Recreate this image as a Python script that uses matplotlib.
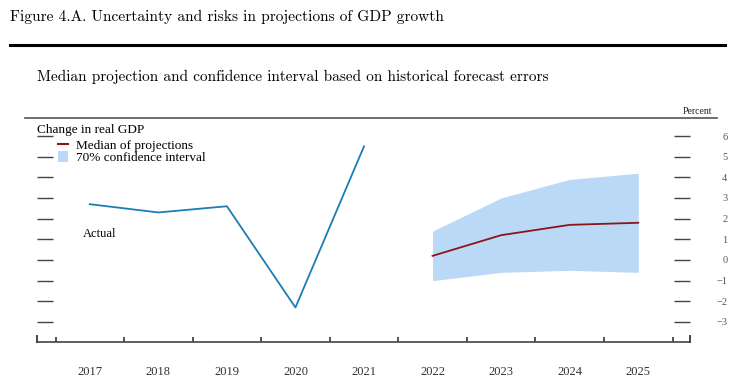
import matplotlib
matplotlib.use("Agg")
import matplotlib.pyplot as plt
from matplotlib.lines import Line2D
from matplotlib.patches import Patch

# --- Data ---
actual_years = [2017, 2018, 2019, 2020, 2021]
actual_growth = [2.7, 2.3, 2.6, -2.3, 5.5]

proj_years = [2022, 2023, 2024, 2025]
median_proj = [0.2, 1.2, 1.7, 1.8]
ci_upper = [1.4, 3.0, 3.9, 4.2]
ci_lower = [-1.0, -0.6, -0.5, -0.6]

all_years = actual_years + proj_years
y_ticks = [6, 5, 4, 3, 2, 1, 0, -1, -2, -3]

# --- Style ---
W, H = 743, 388
BLUE_LINE = "#1b7db5"
RED_LINE = "#8c1515"
BAND = "#b9d9f6"
SERIF = ["Liberation Serif", "DejaVu Serif"]
CM = ["cmr10", "DejaVu Serif"]
plt.rcParams["axes.unicode_minus"] = True

fig = plt.figure(figsize=(W / 100, H / 100), dpi=100)
fig.patch.set_facecolor("white")


def fx(px):
    return px / W


def fy(py):
    return 1 - py / H


# Header
fig.text(fx(10), fy(17), "Figure 4.A. Uncertainty and risks in projections of GDP growth",
         family=CM, fontsize=11.1, va="center", ha="left")
fig.add_artist(Line2D([fx(10), fx(725)], [fy(45), fy(45)], color="black", lw=2.2))
fig.text(fx(37), fy(77), "Median projection and confidence interval based on historical forecast errors",
         family=CM, fontsize=11, va="center", ha="left")
fig.text(fx(712), fy(112), "Percent", family=SERIF, fontsize=7, va="center", ha="right",
         color="#222")
fig.add_artist(Line2D([fx(25), fx(717)], [fy(117.5), fy(117.5)], color="#555", lw=1.2))

# Axes
ax = fig.add_axes([fx(37), fy(342), fx(690) - fx(37), (342 - 117) / H])
ax.set_xlim(2016.23, 2025.755)
ax.set_ylim(-3.97, 6.92)

ax.fill_between(proj_years, ci_lower, ci_upper, color=BAND, lw=0)
ax.plot(proj_years, median_proj, color=RED_LINE, lw=1.3)
ax.plot(actual_years, actual_growth, color=BLUE_LINE, lw=1.3)

ax.text(2017 - 0.1, 1.25, "Actual", family=SERIF, fontsize=9, va="center", ha="left")

# Spines
for s in ["top", "left", "right"]:
    ax.spines[s].set_visible(False)
ax.spines["bottom"].set_color("#444")
ax.spines["bottom"].set_linewidth(1.2)

# x axis: year labels, ticks at year boundaries
ax.set_xticks(all_years)
ax.set_xticklabels([str(y) for y in all_years], family=SERIF, fontsize=9, color="#333")
ax.set_xticks([y - 0.5 for y in all_years] + [2025.5], minor=True)
ax.tick_params(axis="x", which="major", length=0, pad=17)
ax.tick_params(axis="x", which="minor", direction="in", length=3.5, width=1.2, color="#333")

# end ticks of the bottom axis
for xe in ax.get_xlim():
    ax.axvline(xe, ymin=0, ymax=0.028, color="#444", lw=1.4, clip_on=False)

# y axis: ticks inside on both sides, labels on right
ax.set_yticks(y_ticks)
ax.set_yticklabels([f"{v}".replace("-", "\u2212") for v in y_ticks], family=SERIF,
                   fontsize=7.5, color="#555")
ax.tick_params(axis="y", left=True, right=True, labelleft=False, labelright=True,
               direction="in", length=11.5, width=1.0, color="#444", pad=27)
for lbl in ax.get_yticklabels():
    lbl.set_ha("right")

# Legend
fig.text(fx(37), fy(130), "Change in real GDP", family=SERIF, fontsize=9.5, va="center",
         ha="left")
handles = [Line2D([], [], color=RED_LINE, lw=1.5), Patch(facecolor=BAND, edgecolor="none")]
leg = fig.legend(handles, ["Median of projections", "70% confidence interval"],
                 loc="upper left", bbox_to_anchor=(fx(58), fy(139)), frameon=False,
                 prop={"family": SERIF, "size": 9.5}, handlelength=0.75, handleheight=0.9,
                 handletextpad=0.65, labelspacing=-0.1, borderpad=0, borderaxespad=0)

fig.savefig("out.png", dpi=100)
